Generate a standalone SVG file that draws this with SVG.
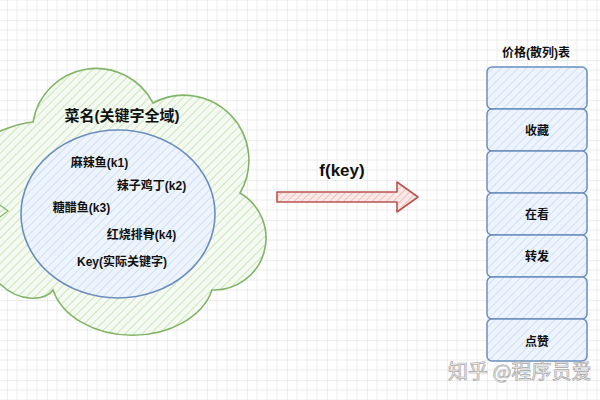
<svg xmlns="http://www.w3.org/2000/svg" width="600" height="400" viewBox="0 0 600 400">
<style>
.t{font-family:"Liberation Sans","Noto Sans CJK SC",sans-serif;font-weight:bold;fill:#111;text-anchor:middle}
.cell{fill:url(#hb);stroke:#6c8ebf;stroke-width:1.5}
.ct{font-size:12px}
</style>
<defs>
<pattern id="grid" patternUnits="userSpaceOnUse" x="7" y="20" width="40" height="40">
<path d="M10,0V40M20,0V40M30,0V40M0,10H40M0,20H40M0,30H40" stroke="#ececec" stroke-width="1" fill="none"/>
<path d="M0,0V40M0,0H40" stroke="#dcdcdc" stroke-width="1" fill="none"/>
</pattern>
<pattern id="hg" patternUnits="userSpaceOnUse" width="6" height="6" patternTransform="rotate(45)">
<rect width="6" height="6" fill="#f4faf1"/>
<line x1="0" y1="0" x2="0" y2="6" stroke="#c3e2b3" stroke-width="1.6"/>
</pattern>
<pattern id="hb" patternUnits="userSpaceOnUse" width="6" height="6" patternTransform="rotate(45)">
<rect width="6" height="6" fill="#eef4fd"/>
<line x1="0" y1="0" x2="0" y2="6" stroke="#c9daf4" stroke-width="1.6"/>
</pattern>
<pattern id="hr" patternUnits="userSpaceOnUse" width="5" height="5" patternTransform="rotate(45)">
<rect width="5" height="5" fill="#fbe9e8"/>
<line x1="0" y1="0" x2="0" y2="5" stroke="#eeb3b0" stroke-width="1.5"/>
</pattern>
</defs>
<rect width="600" height="400" fill="#fff"/>
<rect width="600" height="400" fill="url(#grid)"/>

<g id="domain">
<path d="M-40,150 C-20,140 10,124 33,122 A64 64 0 0 1 153,103 A65 65 0 0 1 240,193 A52 52 0 0 1 212,290 A82 60 0 0 1 53,290 C45,301 20,303 0,284 C-15,272 -30,265 -40,262 Z" fill="url(#hg)" stroke="#82b366" stroke-width="1.6"/>
<text class="t" x="122" y="121" font-size="15">菜名(关键字全域)</text>
</g>
<g id="edge-stub">
<path d="M0,205 L8,211 L0,217" fill="none" stroke="#82b366" stroke-width="1.2"/>
</g>
<g id="keys">
<ellipse cx="118" cy="214" rx="97" ry="84" fill="url(#hb)" stroke="#6c8ebf" stroke-width="1.6"/>
<text class="t ct" x="99.5" y="167">麻辣鱼(k1)</text>
<text class="t ct" x="151.5" y="190">辣子鸡丁(k2)</text>
<text class="t ct" x="81.5" y="212">糖醋鱼(k3)</text>
<text class="t ct" x="141.5" y="239">红烧排骨(k4)</text>
<text class="t ct" x="122" y="266">Key(实际关键字)</text>
</g>

<g id="connectors">
<polygon points="277,192 397,192 397,182 418,197 397,212 397,202 277,202" fill="url(#hr)" stroke="#b85450" stroke-width="1.6" stroke-linejoin="round"/>
<text class="t" x="342" y="176" font-size="17">f(key)</text>
</g>

<g id="table">
<text class="t ct" x="536" y="57">价格(散列)表</text>
<g id="cell0"><rect class="cell" x="487" y="67" width="100" height="42" rx="5"/></g>
<g id="cell1"><rect class="cell" x="487" y="109" width="100" height="42" rx="5"/><text class="t ct" x="537" y="135">收藏</text></g>
<g id="cell2"><rect class="cell" x="487" y="151" width="100" height="42" rx="5"/></g>
<g id="cell3"><rect class="cell" x="487" y="193" width="100" height="42" rx="5"/><text class="t ct" x="537" y="219">在看</text></g>
<g id="cell4"><rect class="cell" x="487" y="235" width="100" height="42" rx="5"/><text class="t ct" x="537" y="261">转发</text></g>
<g id="cell5"><rect class="cell" x="487" y="277" width="100" height="42" rx="5"/></g>
<g id="cell6"><rect class="cell" x="487" y="319" width="100" height="42" rx="5"/><text class="t ct" x="537" y="346">点赞</text></g>
</g>

<text x="448" y="379" font-family="'Noto Sans CJK SC',sans-serif" font-size="20" fill="#f4f4f4" stroke="#a8a8a8" stroke-width="0.7">知乎 @程序员爱</text>
</svg>
